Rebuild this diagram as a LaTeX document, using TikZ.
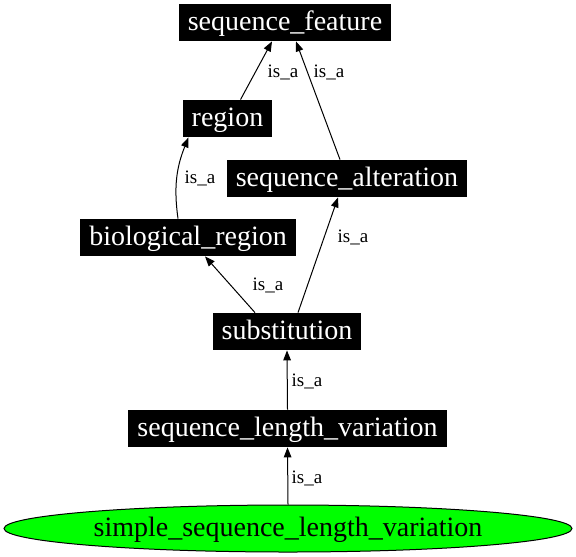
\documentclass[tikz,border=0pt]{standalone}
\usepackage{fontspec}
\setmainfont{Liberation Serif}
\usetikzlibrary{arrows.meta, shapes.geometric}
\definecolor{termgreen}{RGB}{0,255,0}

\begin{document}
\begin{tikzpicture}[
    x=0.5pt, y=-0.5pt,
    term/.style={
      fill=black, text=white, inner xsep=4.5pt, inner ysep=0pt,
      minimum height=18.5pt, text height=10.4pt, text depth=2.2pt,
      font=\fontsize{14}{16}\selectfont
    },
    leaf/.style={
      ellipse, draw=black, line width=0.5pt, fill=termgreen, inner sep=0pt,
      minimum width=284pt, minimum height=23.5pt,
      text height=10.4pt, text depth=2.2pt, font=\fontsize{14}{16}\selectfont
    },
    lab/.style={font=\fontsize{9.5}{11}\selectfont, inner sep=1pt},
    isa/.style={-{Triangle[length=5pt, width=3.8pt]}, line width=0.5pt},
  ]
    \useasboundingbox (0,0) rectangle (576,556);
    \node[term] (feature) at (285,22.5) {sequence\_feature};
    \node[term] (region) at (227.5,118.5) {region};
    \node[term] (alteration) at (347,178.5) {sequence\_alteration};
    \node[term] (bioregion) at (188,237.5) {biological\_region};
    \node[term] (subst) at (287,331.5) {substitution};
    \node[term] (lenvar) at (287.5,428.5) {sequence\_length\_variation};
    \node[leaf] (simple) at (288,528.5) {simple\_sequence\_length\_variation};
    \draw[isa] ([xshift=6.5pt]region.north) -- ([xshift=-6.5pt]feature.south)
      node[lab] at (283,72) {is\_a};
    \draw[isa] ([xshift=-3.5pt]alteration.north) -- ([xshift=5.5pt]feature.south)
      node[lab] at (329,72) {is\_a};
    \draw[isa] ([xshift=-5pt]bioregion.north) to[out=98, in=-112]
      ([xshift=-19.5pt]region.south)
      node[lab] at (200,178) {is\_a};
    \draw[isa] ([xshift=-16pt]subst.north) -- ([xshift=8.5pt]bioregion.south)
      node[lab] at (268,285) {is\_a};
    \draw[isa] ([xshift=5.5pt]subst.north) -- ([xshift=-4.5pt]alteration.south)
      node[lab] at (353,237) {is\_a};
    \draw[isa] (lenvar.north) -- (subst.south)
      node[lab] at (307,381) {is\_a};
    \draw[isa] (simple.north) -- (lenvar.south)
      node[lab] at (307,478) {is\_a};
  \end{tikzpicture}
\end{document}
